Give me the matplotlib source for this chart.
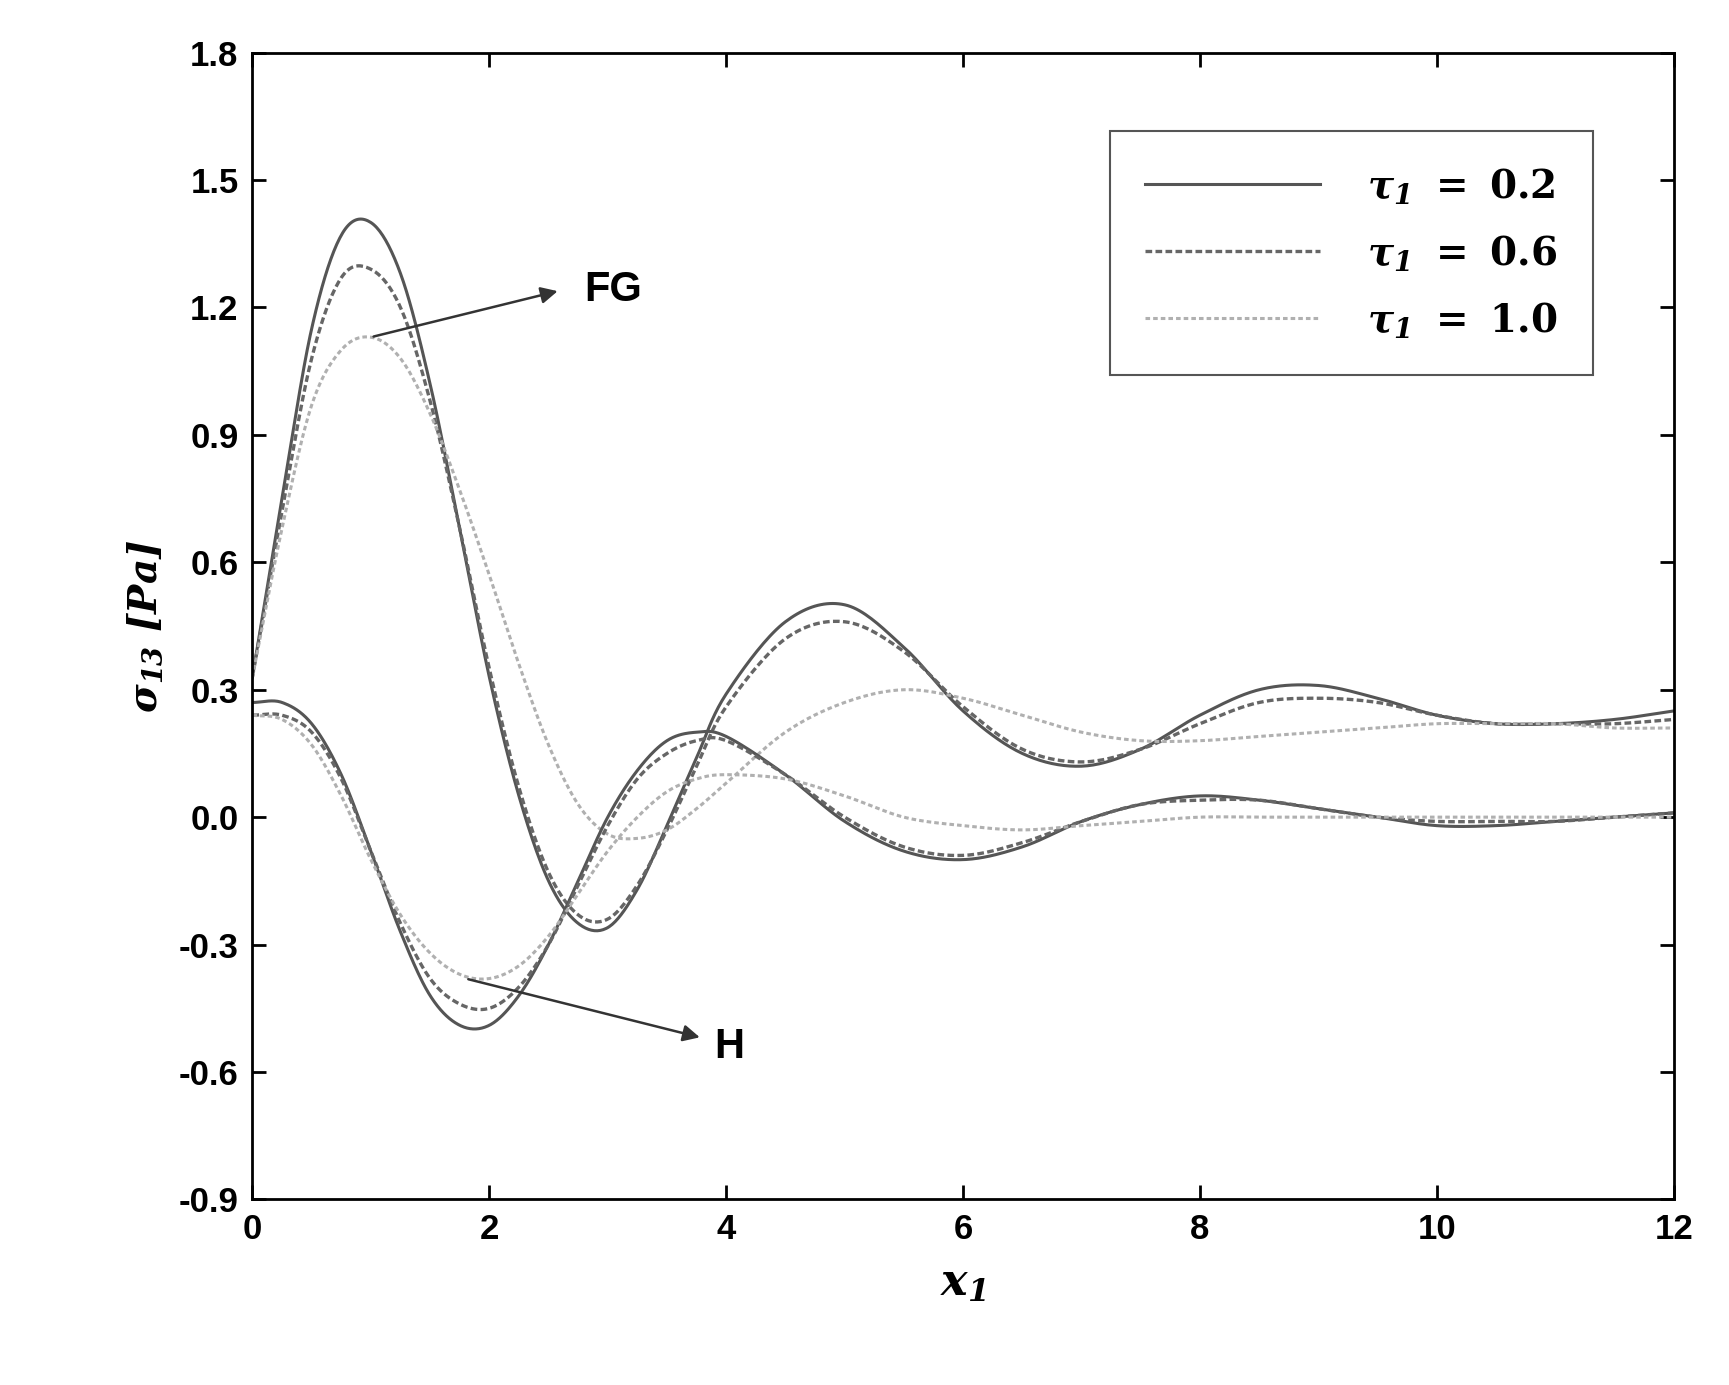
import numpy as np
import matplotlib.pyplot as plt

plt.rcParams['font.family'] = ['Liberation Sans', 'DejaVu Sans']
plt.rcParams['mathtext.fontset'] = 'custom'
plt.rcParams['mathtext.bf'] = 'DejaVu Serif:italic:bold'
plt.rcParams['mathtext.rm'] = 'DejaVu Serif:bold'
plt.rcParams['mathtext.it'] = 'DejaVu Serif:italic:bold'

xs = [0, 0.25, 0.5, 0.75, 1, 1.25, 1.5, 1.75, 2, 2.25, 2.5, 2.75, 3, 3.25, 3.5, 3.75, 4,
      4.5, 5, 5.5, 6, 6.5, 7, 7.5, 8, 8.5, 9, 9.5, 10, 10.5, 11, 11.5, 12]

fg_02 = [0.33, 0.75, 1.15, 1.37, 1.40, 1.28, 1.02, 0.68, 0.33, 0.05, -0.15, -0.25, -0.26, -0.17, -0.02, 0.14, 0.29,
         0.46, 0.50, 0.40, 0.25, 0.15, 0.12, 0.16, 0.24, 0.30, 0.31, 0.28, 0.24, 0.22, 0.22, 0.23, 0.25]
fg_06 = [0.33, 0.72, 1.08, 1.27, 1.29, 1.20, 0.98, 0.68, 0.35, 0.07, -0.13, -0.23, -0.24, -0.16, -0.03, 0.12, 0.26,
         0.42, 0.46, 0.39, 0.26, 0.16, 0.13, 0.16, 0.22, 0.27, 0.28, 0.27, 0.24, 0.22, 0.22, 0.22, 0.23]
fg_10 = [0.33, 0.68, 0.97, 1.10, 1.13, 1.08, 0.95, 0.77, 0.57, 0.36, 0.17, 0.03, -0.04, -0.05, -0.03, 0.02, 0.08,
         0.20, 0.27, 0.30, 0.28, 0.24, 0.20, 0.18, 0.18, 0.19, 0.20, 0.21, 0.22, 0.22, 0.22, 0.21, 0.21]
h_02 = [0.27, 0.27, 0.22, 0.10, -0.08, -0.27, -0.42, -0.49, -0.49, -0.42, -0.30, -0.15, 0.00, 0.11, 0.18, 0.20, 0.19,
        0.10, -0.01, -0.08, -0.10, -0.07, -0.01, 0.03, 0.05, 0.04, 0.02, 0.00, -0.02, -0.02, -0.01, 0.00, 0.01]
h_06 = [0.24, 0.24, 0.20, 0.09, -0.08, -0.25, -0.38, -0.44, -0.45, -0.40, -0.30, -0.16, -0.02, 0.09, 0.15, 0.18, 0.18,
        0.10, 0.00, -0.07, -0.09, -0.06, -0.01, 0.03, 0.04, 0.04, 0.02, 0.00, -0.01, -0.01, -0.01, 0.00, 0.01]
h_10 = [0.24, 0.23, 0.17, 0.05, -0.10, -0.23, -0.32, -0.37, -0.38, -0.35, -0.28, -0.18, -0.08, 0.00, 0.06, 0.09, 0.10,
        0.09, 0.05, 0.00, -0.02, -0.03, -0.02, -0.01, 0.00, 0.00, 0.00, 0.00, 0.00, 0.00, 0.00, 0.00, 0.00]

labels = [r'$\mathbf{\tau_1}\ \mathrm{=\ 0.2}$', r'$\mathbf{\tau_1}\ \mathrm{=\ 0.6}$', r'$\mathbf{\tau_1}\ \mathrm{=\ 1.0}$']
y_ticks = [-0.9, -0.6, -0.3, 0.0, 0.3, 0.6, 0.9, 1.2, 1.5, 1.8]


def smooth(x, y, n=20):
    # Catmull-Rom curve through the read points, for drawing only
    x = np.asarray(x, float); y = np.asarray(y, float)
    px = np.concatenate([[2 * x[0] - x[1]], x, [2 * x[-1] - x[-2]]])
    py = np.concatenate([[2 * y[0] - y[1]], y, [2 * y[-1] - y[-2]]])
    ox, oy = [], []
    t = np.linspace(0, 1, n, endpoint=False)
    for i in range(1, len(px) - 2):
        for p, o in ((px, ox), (py, oy)):
            p0, p1, p2, p3 = p[i - 1], p[i], p[i + 1], p[i + 2]
            o.extend(0.5 * (2 * p1 + (-p0 + p2) * t + (2 * p0 - 5 * p1 + 4 * p2 - p3) * t ** 2
                            + (-p0 + 3 * p1 - 3 * p2 + p3) * t ** 3))
    ox.append(x[-1]); oy.append(y[-1])
    return ox, oy


fig = plt.figure(figsize=(17.29, 13.85), dpi=100)
ax = fig.add_axes([0.146, 0.134, 0.822, 0.828])

styles = [dict(color='#555555', ls='-', lw=2.2),
          dict(color='#666666', ls=(0, (2, 1)), lw=2.4),
          dict(color='#b0b0b0', ls=(0, (1.5, 1)), lw=2.2)]

for ys, st, lab in zip([fg_02, fg_06, fg_10], styles, labels):
    ax.plot(*smooth(xs, ys), label=lab, **st)
for ys, st in zip([h_02, h_06, h_10], styles):
    ax.plot(*smooth(xs, ys), **st)

ax.annotate('', xy=(2.6, 1.24), xytext=(1.0, 1.13),
            arrowprops=dict(arrowstyle='-|>', color='#333333', lw=1.8, mutation_scale=25))
ax.text(2.8, 1.24, 'FG', fontsize=30, fontweight='bold', va='center')
ax.annotate('', xy=(3.8, -0.52), xytext=(1.8, -0.38),
            arrowprops=dict(arrowstyle='-|>', color='#333333', lw=1.8, mutation_scale=25))
ax.text(3.9, -0.54, 'H', fontsize=30, fontweight='bold', va='center')

ax.set_xlim(0, 12)
ax.set_ylim(-0.9, 1.8)
ax.set_xticks(range(0, 13, 2))
ax.set_yticks(y_ticks)
ax.set_yticklabels([f'{v:.1f}' for v in y_ticks])
ax.tick_params(direction='in', top=True, right=True, length=10, width=2, labelsize=25, pad=10)
for lbl in ax.get_xticklabels() + ax.get_yticklabels():
    lbl.set_fontweight('bold')
for s in ax.spines.values():
    s.set_linewidth(2)
ax.set_xlabel(r'$\mathbf{x_1}$', fontsize=32, labelpad=12)
ax.set_ylabel(r'$\mathbf{\sigma_{13}}\ \mathbf{[Pa]}$', fontsize=28, labelpad=10)

leg = ax.legend(loc='upper right', fontsize=28, handlelength=4.5, borderpad=0.9,
                labelspacing=0.7, handletextpad=1.2, fancybox=False, framealpha=1,
                bbox_to_anchor=(0.943, 0.932), borderaxespad=0)
leg.get_frame().set_edgecolor('#555555')
leg.get_frame().set_linewidth(1.5)

fig.savefig('out.png')
